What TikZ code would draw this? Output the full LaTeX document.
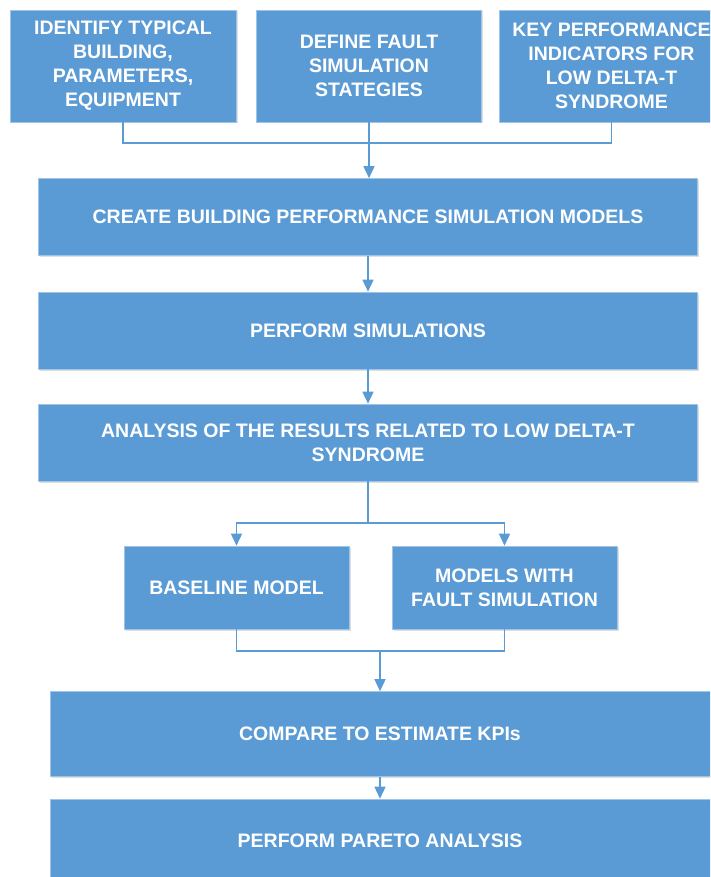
\documentclass[tikz,border=0pt]{standalone}
\usepackage{fontspec}
\setmainfont{Liberation Sans}
\usetikzlibrary{arrows.meta,shadows}

\definecolor{boxblue}{RGB}{91,155,213}
\definecolor{edgeblue}{RGB}{160,196,230}

\tikzset{
  box/.style={fill=boxblue, draw=edgeblue, line width=0.6pt, text=white,
    font=\bfseries\fontsize{19.5}{24}\selectfont, align=center, inner sep=0pt,
    drop shadow={opacity=0.25, shadow xshift=1.5pt, shadow yshift=-1.5pt}},
  link/.style={draw=boxblue, line width=1.5pt},
  arr/.style={link, -{Triangle[width=11pt,length=12pt]}}
}

\begin{document}
\begin{tikzpicture}[x=1pt,y=-1pt]
\clip (0,0) rectangle (710,877);

%% top row
\node[box, minimum width=226pt, minimum height=112pt] (identify) at (123,66) {IDENTIFY TYPICAL\\BUILDING,\\PARAMETERS,\\EQUIPMENT};
\node[box, minimum width=225pt, minimum height=112pt] (define) at (369,66) {DEFINE FAULT\\SIMULATION\\STATEGIES};
\node[box, minimum width=225pt, minimum height=112pt] (kpi) at (611.5,66) {KEY PERFORMANCE\\INDICATORS FOR\\LOW DELTA-T\\SYNDROME};

%% main column
\node[box, minimum width=659pt, minimum height=77pt] (create) at (368,217) {CREATE BUILDING PERFORMANCE SIMULATION MODELS};
\node[box, minimum width=659pt, minimum height=77pt] (perform) at (368,330.5) {PERFORM SIMULATIONS};
\node[box, minimum width=659pt, minimum height=77pt] (analysis) at (368,442.5) {ANALYSIS OF THE RESULTS RELATED TO LOW DELTA-T\\SYNDROME};

%% models
\node[box, minimum width=225pt, minimum height=83pt] (baseline) at (236.5,587.5) {BASELINE MODEL};
\node[box, minimum width=225pt, minimum height=83pt] (faultmod) at (504.5,587.5) {MODELS WITH\\FAULT SIMULATION};

%% bottom
\node[box, minimum width=660pt, minimum height=85pt] (compare) at (380,734) {COMPARE TO ESTIMATE KPIs};
\node[box, minimum width=660pt, minimum height=83pt] (pareto) at (380,840.5) {PERFORM PARETO ANALYSIS};

%% junctions
\coordinate (topjoin) at (369,143);
\coordinate (splitjoin) at (368,523);
\coordinate (mergejoin) at (380,651);

%%% connectors
\draw[link] (identify.south) |- (topjoin) -| (kpi.south);
\draw[arr] (define.south) -- (define.south |- create.north);
\draw[arr] (create) -- (perform);
\draw[arr] (perform) -- (analysis);
\draw[link] (analysis.south) -- (splitjoin);
\draw[arr] (splitjoin) -| (baseline.north);
\draw[arr] (splitjoin) -| (faultmod.north);
\draw[link] (baseline.south) |- (mergejoin) -| (faultmod.south);
\draw[arr] (mergejoin) -- (compare.north);
\draw[arr] (compare) -- (pareto);

\end{tikzpicture}
\end{document}
